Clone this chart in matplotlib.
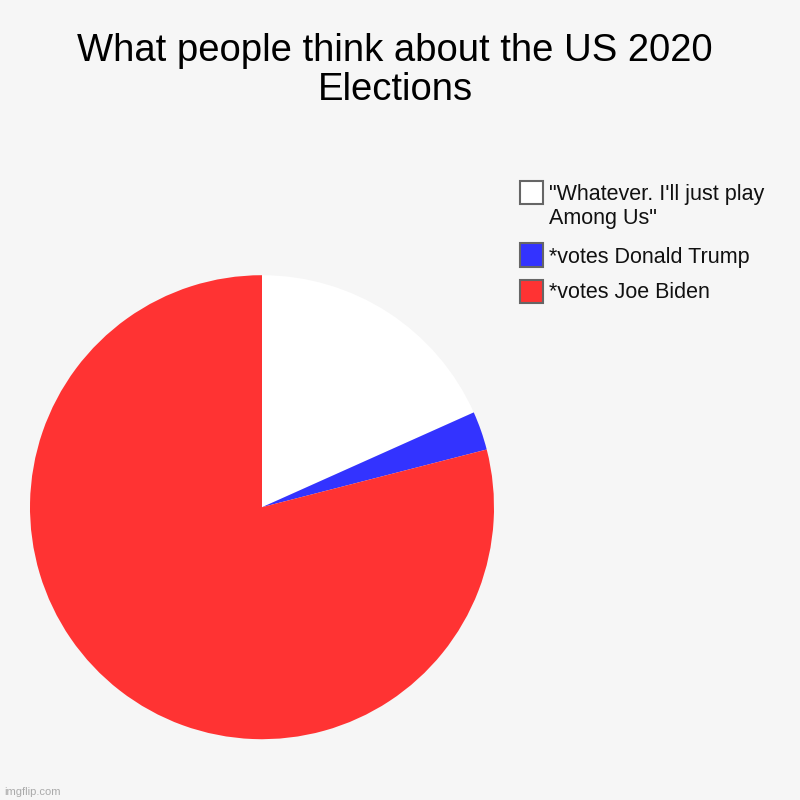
import matplotlib.pyplot as plt
from matplotlib.patches import Rectangle

plt.rcParams["font.family"] = ["Liberation Sans", "DejaVu Sans"]

labels = ["*votes Joe Biden", "*votes Donald Trump", "\"Whatever. I'll just play\nAmong Us\""]
values = [79.0, 2.7, 18.3]
colors = ["#ff3333", "#3333ff", "#ffffff"]
BG = "#f6f6f6"
W = H = 800  # pixels

fig = plt.figure(figsize=(8, 8), dpi=100, facecolor=BG)

ax = fig.add_axes([0.0375, 0.076, 0.58, 0.58])
ax.set_facecolor(BG)
# slices go clockwise from 12 o'clock: white, blue, then red
ax.pie(values[::-1], colors=colors[::-1], startangle=90, counterclock=False,
       radius=1, wedgeprops=dict(linewidth=0))
ax.set_xlim(-1, 1)
ax.set_ylim(-1, 1)
ax.set_aspect("equal")
ax.axis("off")

# title, two lines, baselines in px from top
for line, base in zip(["What people think about the US 2020", "Elections"], [61, 100]):
    fig.text(0.494, 1 - base / H, line, ha="center", va="baseline", fontsize=27.5, color="#000000")

# legend drawn by hand, top entry first (reverse of data order)
row_centers = [192.5, 255, 291]
for lab, col, yc in zip(labels[::-1], colors[::-1], row_centers):
    fig.patches.append(Rectangle((519.5 / W, 1 - (yc + 11.5) / H), 23 / W, 23 / H,
                                 transform=fig.transFigure, facecolor=col,
                                 edgecolor="#666666", linewidth=1.5))
    for k, line in enumerate(lab.split("\n")):
        fig.text(549 / W, 1 - (yc + 7.5 + 24 * k) / H, line, ha="left", va="baseline",
                 fontsize=15.5, color="#111111")

fig.text(0.005, 0.006, "imgflip.com", fontsize=8, color="#aaaaaa", ha="left", va="baseline")

fig.savefig("out.png", dpi=100, facecolor=BG)
